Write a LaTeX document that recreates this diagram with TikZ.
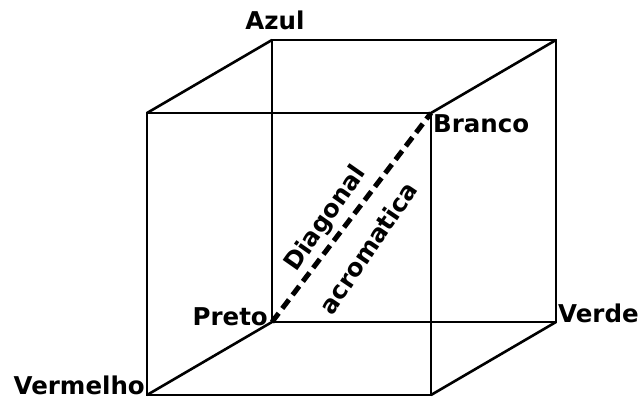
\documentclass[tikz,border=0pt]{standalone}
\usepackage{fontspec}
\setmainfont{DejaVu Sans}
\begin{document}
\begin{tikzpicture}[x=1pt,y=-1pt,
  edge/.style={line width=2.6pt,line join=miter},
  diag/.style={line width=5pt,dash pattern=on 11pt off 6pt},
  lbl/.style={inner sep=0pt,font=\fontsize{24.5}{28}\selectfont\bfseries}]
\useasboundingbox (0,0) rectangle (638,401);
% front face
\coordinate (FTL) at (147,113);
\coordinate (FTR) at (431,113);
\coordinate (FBL) at (147,395);
\coordinate (FBR) at (431,395);
% back face
\coordinate (BTL) at (272,40);
\coordinate (BTR) at (556,40);
\coordinate (BBL) at (272,322);
\coordinate (BBR) at (556,322);
\draw[edge] (FTL) -- (FTR) -- (FBR) -- (FBL) -- cycle;
\draw[edge] (BTL) -- (BTR) -- (BBR) -- (BBL) -- cycle;
\draw[edge] (FTL) -- (BTL);
\draw[edge] (FTR) -- (BTR);
\draw[edge] (FBL) -- (BBL);
\draw[edge] (FBR) -- (BBR);
\draw[diag] (BBL) -- (FTR);
\node[lbl,anchor=base] (azul) at (275,30) {Azul};
\node[lbl,anchor=base west] (branco) at (433,133) {Branco};
\node[lbl,anchor=base east] (preto) at (268,325) {Preto};
\node[lbl,anchor=base west] (verde) at (558,323) {Verde};
\node[lbl,anchor=base east] (vermelho) at (145,394) {Vermelho};
\node[lbl,rotate=55] (diagonal) at (326,219) {Diagonal};
\node[lbl,rotate=56] (acrom) at (368,248) {acromatica};
\end{tikzpicture}
\end{document}
